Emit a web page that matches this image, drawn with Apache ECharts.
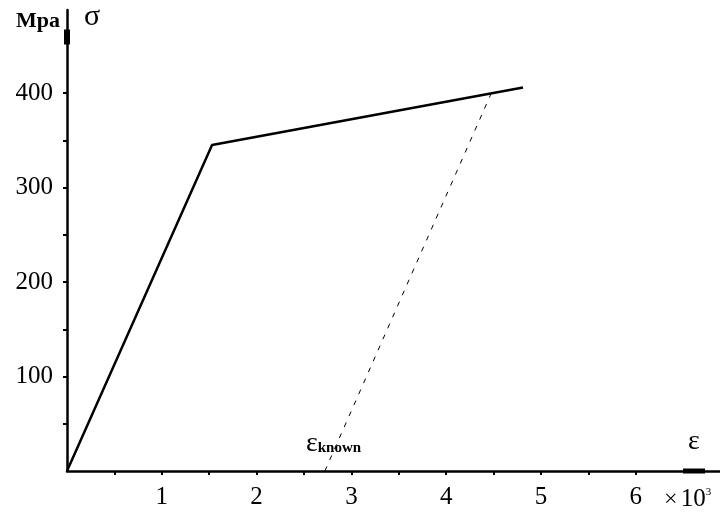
<!DOCTYPE html>
<html><head><meta charset="utf-8">
<script src="https://cdn.jsdelivr.net/npm/echarts@6/dist/echarts.min.js"></script>
<style>html,body{margin:0;padding:0;background:#fff}#c{width:720px;height:519px}</style>
</head><body><div id="c"></div>
<script>
// strain (x10^-3) and stress (MPa)
const stressStrain = [[0, 0], [1.53, 345], [4.81, 406]];
const unloadLine = [[2.72, 0], [4.48, 401]];
const xTickValues = [0.5, 1, 1.5, 2, 2.5, 3, 3.5, 4, 4.5, 5, 5.5, 6];
const xLabelValues = [1, 2, 3, 4, 5, 6];
const yTickValues = [50, 100, 150, 200, 250, 300, 350, 400];
const yLabelValues = [100, 200, 300, 400];

const FONT = 'Liberation Serif';
const chart = echarts.init(document.getElementById('c'), null, {renderer: 'canvas'});
const xMax = 6.888, yMax = 488;
function xAx(main) {
  return {
    type: 'value', min: 0, max: xMax, gridIndex: 0,
    splitLine: {show: false},
    axisLine: main ? {show: true, lineStyle: {color: '#000', width: 2.5},
      symbol: ['none', 'rect'], symbolSize: [5, 22], symbolOffset: [0, -26]} : {show: false},
    axisTick: {show: true, inside: !main, length: 4, lineStyle: {color: '#000', width: 2}, customValues: xTickValues},
    axisLabel: main ? {show: true, customValues: xLabelValues, margin: 14, color: '#000', fontFamily: FONT, fontSize: 25} : {show: false}
  };
}
function yAx(main) {
  return {
    type: 'value', min: 0, max: yMax, gridIndex: 0,
    splitLine: {show: false},
    axisLine: main ? {show: true, lineStyle: {color: '#000', width: 2.5},
      symbol: ['none', 'rect'], symbolSize: [6, 15], symbolOffset: [0, -27]} : {show: false},
    axisTick: {show: true, inside: !main, length: 4, lineStyle: {color: '#000', width: 2}, customValues: yTickValues},
    axisLabel: main ? {show: true, customValues: yLabelValues, margin: 14, color: '#000', fontFamily: FONT, fontSize: 25} : {show: false}
  };
}
chart.setOption({
  animation: false,
  backgroundColor: '#fff',
  grid: {left: 67, right: 0, top: 10, bottom: 48, containLabel: false},
  xAxis: [xAx(true), xAx(false)],
  yAxis: [yAx(true), yAx(false)],
  series: [
    {type: 'line', data: stressStrain, xAxisIndex: 0, yAxisIndex: 0, symbol: 'none',
     lineStyle: {color: '#000', width: 2.5}},
    {type: 'line', data: unloadLine, xAxisIndex: 0, yAxisIndex: 0, symbol: 'none',
     lineStyle: {color: '#000', width: 1, type: [5, 7]}}
  ],
  graphic: [
    {type: 'text', left: 16, top: 10, style: {text: 'Mpa', font: 'bold 22px "Liberation Serif"', fill: '#000'}},
    {type: 'text', left: 84, top: 2, style: {text: 'σ', font: '30px "Liberation Serif"', fill: '#000'}},
    {type: 'text', left: 688, top: 428, style: {text: 'ε', font: '28px "Liberation Serif"', fill: '#000'}},
    {type: 'text', left: 664, top: 487, style: {
      text: '{a|×} {b|10}{c|3}', rich: {
        a: {fontFamily: FONT, fontSize: 24, fill: '#000'},
        b: {fontFamily: FONT, fontSize: 25, fill: '#000'},
        c: {fontFamily: FONT, fontSize: 11, fill: '#000', verticalAlign: 'top'}
      }}},
    {type: 'text', left: 306, top: 430, style: {
      text: '{e|ε}{k|known}', rich: {
        e: {fontFamily: FONT, fontSize: 28, fill: '#000'},
        k: {fontFamily: FONT, fontSize: 15, fontWeight: 'bold', fill: '#000', padding: [8, 0, 0, 0]}
      }}}
  ]
});
</script></body></html>
